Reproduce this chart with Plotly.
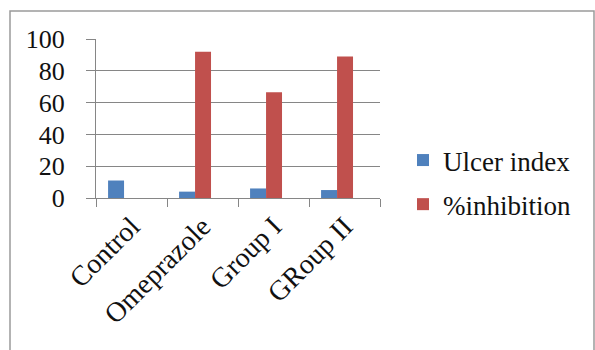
import plotly.graph_objects as go

categories = ["Control", "Omeprazole", "Group I", "GRoup II"]
ulcer_index = [11, 4, 6, 5]
inhibition = [0, 92, 66.5, 89]
y_ticks = [0, 20, 40, 60, 80, 100]

W, H = 595, 350
L, R, T, B = 96, 215, 39, 152
pw = W - L - R
ph = H - T - B

def px_x(p):
    return (p - L) / pw

def px_y(p):
    return (H - B - p) / ph

font = "Liberation Serif"

fig = go.Figure()
fig.add_trace(go.Bar(x=categories, y=ulcer_index, name="Ulcer index",
                     marker=dict(color="#4F81BD", line=dict(width=0)),
                     width=0.225, offset=-0.33, legendgroup="a"))
fig.add_trace(go.Bar(x=categories, y=inhibition, name="%inhibition",
                     marker=dict(color="#C0504D", line=dict(width=0)),
                     width=0.225, offset=-0.105, legendgroup="b"))

fig.update_layout(
    template="none",
    width=W, height=H,
    margin=dict(l=L, r=R, t=T, b=B, autoexpand=False),
    paper_bgcolor="white", plot_bgcolor="white",
    barmode="overlay",
    font=dict(family=font, color="#111111"),
    showlegend=True,
    legend=dict(x=px_x(403), y=px_y(136), xanchor="left", yanchor="top",
                font=dict(size=27, family=font, color="#111111"),
                tracegroupgap=6, traceorder="grouped",
                bgcolor="rgba(0,0,0,0)", itemwidth=30, borderwidth=0),
    xaxis=dict(type="category", showline=True, linecolor="#868686", linewidth=1,
               ticks="outside", ticklen=8, tickcolor="#868686", tickson="boundaries",
               tickangle=-45, tickfont=dict(size=28, family=font, color="#111111"),
               showgrid=False, fixedrange=True),
    yaxis=dict(range=[0, 100], tickvals=y_ticks, ticktext=[str(v) for v in y_ticks],
               showline=True, linecolor="#868686",
               linewidth=1, ticks="outside", ticklen=9, tickcolor="#868686",
               showgrid=True, gridcolor="#868686", gridwidth=1, zeroline=False,
               tickfont=dict(size=26, family=font, color="#111111"),
               ticklabelstandoff=16, fixedrange=True),
    shapes=[dict(type="rect", xref="paper", yref="paper",
                 x0=px_x(10), x1=px_x(594), y0=px_y(11), y1=px_y(400),
                 line=dict(color="#9a9a9a", width=1.5), fillcolor="rgba(0,0,0,0)",
                 layer="below")],
)

fig.write_html("out.html", config={"displayModeBar": False})
